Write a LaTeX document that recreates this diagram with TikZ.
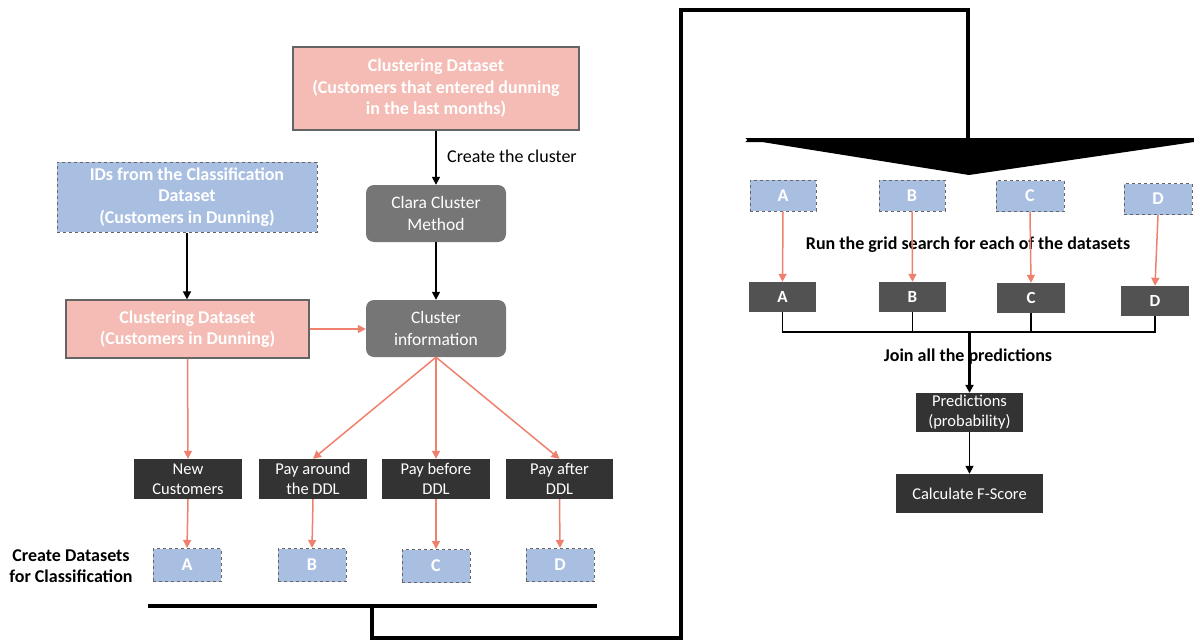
\documentclass[tikz,border=0pt]{standalone}
\usepackage{fontspec}
\setmainfont{Carlito}
\usetikzlibrary{arrows.meta}
\definecolor{pinkf}{RGB}{244,188,180}
\definecolor{bluef}{RGB}{169,191,226}
\definecolor{grayf}{RGB}{118,118,118}
\definecolor{darkf}{RGB}{51,51,51}
\definecolor{midf}{RGB}{82,82,82}
\definecolor{salmon}{RGB}{240,128,110}
\definecolor{edge}{RGB}{100,100,100}
\tikzset{
  box/.style={inner sep=0pt, align=center, text=white, font=\fontsize{16.5}{20}\selectfont},
  pinkbox/.style={box, fill=pinkf, draw=edge, line width=1.2pt, font=\fontsize{18}{21.5}\selectfont\bfseries},
  bluebox/.style={box, fill=bluef, draw=edge, dashed, line width=1pt, font=\fontsize{18}{21.5}\selectfont\bfseries},
  graybox/.style={box, fill=grayf, rounded corners=8pt, font=\fontsize{17.5}{22}\selectfont},
  darkbox/.style={box, fill=darkf},
  midbox/.style={box, fill=midf, font=\fontsize{17}{20}\selectfont\bfseries},
  lbl/.style={inner sep=0pt, align=center, font=\fontsize{18}{21.5}\selectfont\bfseries},
  blk/.style={draw=black, line width=1.5pt, -{Triangle[length=8pt,width=8pt]}},
  red/.style={draw=salmon, line width=1.5pt, -{Triangle[length=8pt,width=8pt]}},
  thick line/.style={draw=black, line width=4pt},
}
\begin{document}
\begin{tikzpicture}[x=1pt,y=-1pt]
\useasboundingbox (0,0) rectangle (1194,642);
% left part
\node[pinkbox, minimum width=286pt, minimum height=83pt] (top) at (436,88.5) {Clustering Dataset\\(Customers that entered dunning\\in the last months)};
\node[bluebox, minimum width=260pt, minimum height=70pt] (ids) at (187,197) {IDs from the Classification\\Dataset\\(Customers in Dunning)};
\node[graybox, minimum width=140pt, minimum height=57pt] (clara) at (436,213.5) {Clara Cluster\\Method};
\node[graybox, minimum width=140pt, minimum height=57pt] (cinfo) at (436,328.5) {Cluster\\information};
\node[pinkbox, minimum width=243pt, minimum height=58pt] (cdun) at (187.5,329) {Clustering Dataset\\(Customers in Dunning)};
\node[inner sep=0pt, anchor=west, font=\fontsize{18}{21}\selectfont] (ctc) at (447,156) {Create the cluster};

\node[darkbox, minimum width=108pt, minimum height=40pt] (new) at (188,479) {New\\Customers};
\node[darkbox, minimum width=108pt, minimum height=40pt] (around) at (313,479) {Pay around\\the DDL};
\node[darkbox, minimum width=108pt, minimum height=40pt] (before) at (436,479) {Pay before\\DDL};
\node[darkbox, minimum width=107pt, minimum height=40pt] (after) at (559.5,479) {Pay after\\DDL};

\node[bluebox, minimum width=68pt, minimum height=33pt] (la) at (187,565) {A};
\node[bluebox, minimum width=68pt, minimum height=33pt] (lb) at (312,565) {B};
\node[bluebox, minimum width=68pt, minimum height=33pt] (lc) at (436,566) {C};
\node[bluebox, minimum width=68pt, minimum height=33pt] (ld) at (560,565) {D};
\node[lbl] (cdl) at (71,566) {Create Datasets\\for Classification};

\draw[blk] (top.south) -- (clara.north);
\draw[blk] (clara.south) -- (cinfo.north);
\draw[blk] (ids.south) -- (ids.south |- cdun.north);
\draw[red] (cdun.east) -- (cinfo.west |- cdun.east);
\draw[red] (cdun.south) -- (new.north);
\draw[red] (cinfo.south) -- (around.north);
\draw[red] (cinfo.south) -- (before.north);
\draw[red] (cinfo.south) -- (after.north);
\draw[red] (new.south) -- (la.north);
\draw[red] (around.south) -- (lb.north);
\draw[red] (before.south) -- (lc.north);
\draw[red] (after.south) -- (ld.north);

% big connector
\coordinate (b1) at (148,606);
\coordinate (b2) at (597,606);
\coordinate (bm) at (372,606);
\coordinate (k1) at (372,638);
\coordinate (k2) at (681,638);
\coordinate (k3) at (681,10);
\coordinate (k4) at (968,10);
\coordinate (k5) at (968,142);
\draw[thick line] (b1) -- (b2);
\draw[thick line, line join=miter] (bm) -- (k1) -- (k2) -- (k3) -- (k4) -- (k5);
\coordinate (tl) at (743,140);
\coordinate (tr) at (1194,138);
\coordinate (tip) at (969,175);
\fill[black] (745,138) -- (tr) -- (1194,142) -- (tip) -- (762,142) -- (745,142) arc[start angle=90, end angle=270, radius=-2pt] -- cycle;

% right part
\node[bluebox, minimum width=66pt, minimum height=31pt] (ra) at (783,195.5) {A};
\node[bluebox, minimum width=66pt, minimum height=31pt] (rb) at (912,195.5) {B};
\node[bluebox, minimum width=68pt, minimum height=31pt] (rc) at (1030,196) {C};
\node[bluebox, minimum width=68pt, minimum height=31pt] (rd) at (1158,199) {D};
\node[lbl] (grid) at (968,245) {Run the grid search for each of the datasets};
\node[midbox, minimum width=67pt, minimum height=30pt] (da) at (782.5,297) {A};
\node[midbox, minimum width=67pt, minimum height=30pt] (db) at (912.5,297) {B};
\node[midbox, minimum width=68pt, minimum height=30pt] (dc) at (1031,298) {C};
\node[midbox, minimum width=68pt, minimum height=30pt] (dd) at (1155,301) {D};
\draw[red] (ra.south) -- (da.north);
\draw[red] (rb.south) -- (db.north);
\draw[red] (rc.south) -- (dc.north);
\draw[red] (rd.south) -- (dd.north);

\node[lbl] (join) at (968,357) {Join all the predictions};
\node[darkbox, minimum width=107pt, minimum height=39pt] (pred) at (969.5,412.5) {Predictions\\(probability)};
\node[darkbox, minimum width=147pt, minimum height=39pt] (fs) at (969.5,493.5) {Calculate F-Score};

\coordinate (hub) at (969.5,332);
\draw[black, line width=1.5pt] (da.south) |- (hub) (db.south) |- (hub) (dc.south) |- (hub) (dd.south) |- (hub);
\draw[blk, line width=2.5pt] (hub) -- (pred.north);
\draw[blk] (pred.south) -- (fs.north);
\end{tikzpicture}
\end{document}
